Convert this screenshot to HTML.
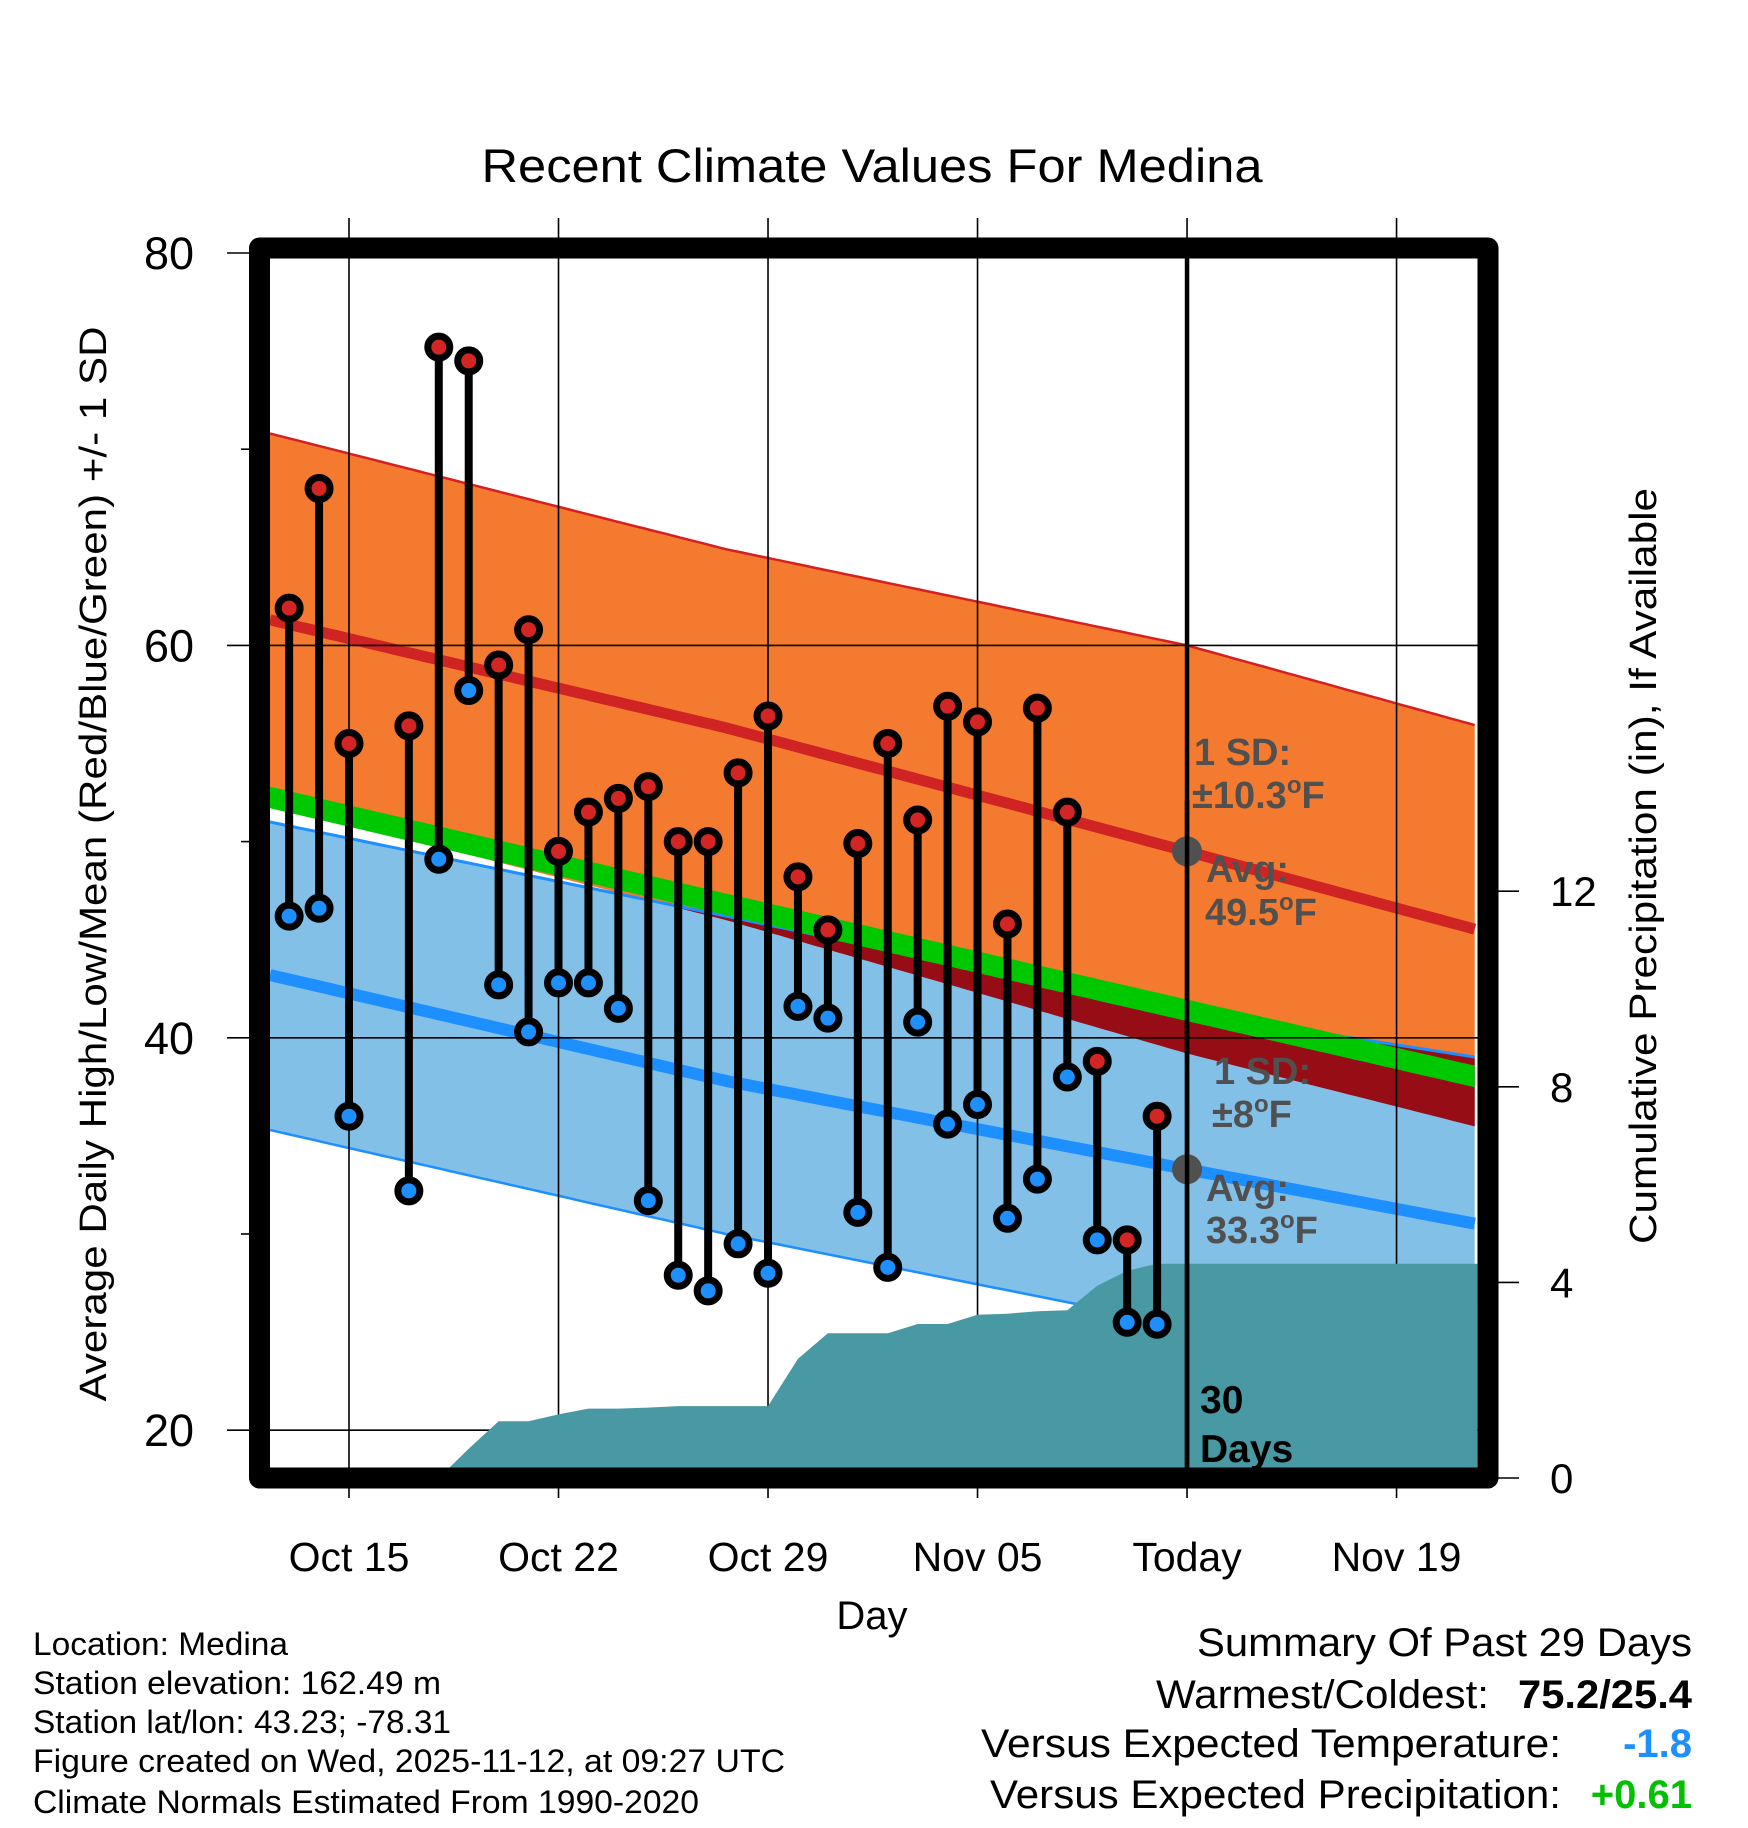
<!DOCTYPE html>
<html><head><meta charset="utf-8"><style>
html,body{margin:0;padding:0;background:#fff;}
svg{display:block;font-family:"Liberation Sans",sans-serif;}
</style></head><body>
<svg id="chart" xmlns="http://www.w3.org/2000/svg" width="1748" height="1828" viewBox="0 0 1748 1828">
<defs><clipPath id="plotclip"><rect x="270" y="258" width="1208" height="1210"/></clipPath></defs>
<g id="bands" clip-path="url(#plotclip)"></g>
<g id="grid"></g>
<g id="precip" clip-path="url(#plotclip)"></g>
<g id="marks"></g>
<g id="annot"></g>
<rect x="259.5" y="248" width="1228.5" height="1230" fill="none" stroke="#000" stroke-width="21" stroke-linejoin="round"/>
<g id="axes"></g>
<text x="872" y="182" font-size="47" text-anchor="middle" textLength="781" lengthAdjust="spacingAndGlyphs">Recent Climate Values For Medina</text>
<text x="872" y="1629" font-size="40" text-anchor="middle">Day</text>
<text transform="translate(106,864) rotate(-90)" font-size="38" text-anchor="middle" textLength="1075" lengthAdjust="spacingAndGlyphs">Average Daily High/Low/Mean (Red/Blue/Green) +/- 1 SD</text>
<text transform="translate(1656,866) rotate(-90)" font-size="38" text-anchor="middle" textLength="756" lengthAdjust="spacingAndGlyphs">Cumulative Precipitation (in), If Available</text>
<g font-size="32">
<text x="33" y="1655" textLength="255" lengthAdjust="spacingAndGlyphs">Location: Medina</text>
<text x="33" y="1694" textLength="408" lengthAdjust="spacingAndGlyphs">Station elevation: 162.49 m</text>
<text x="33" y="1733" textLength="418" lengthAdjust="spacingAndGlyphs">Station lat/lon: 43.23; -78.31</text>
<text x="33" y="1772" textLength="752" lengthAdjust="spacingAndGlyphs">Figure created on Wed, 2025-11-12, at 09:27 UTC</text>
<text x="33" y="1813" textLength="666" lengthAdjust="spacingAndGlyphs">Climate Normals Estimated From 1990-2020</text>
</g>
<g font-size="40">
<text x="1692" y="1656" text-anchor="end" textLength="495" lengthAdjust="spacingAndGlyphs">Summary Of Past 29 Days</text>
<text x="1489" y="1708" text-anchor="end" textLength="333" lengthAdjust="spacingAndGlyphs">Warmest/Coldest:</text>
<text x="1692" y="1708" text-anchor="end" font-weight="bold" textLength="174" lengthAdjust="spacingAndGlyphs">75.2/25.4</text>
<text x="1561" y="1757" text-anchor="end" textLength="580" lengthAdjust="spacingAndGlyphs">Versus Expected Temperature:</text>
<text x="1692" y="1757" text-anchor="end" font-weight="bold" fill="#1e8fff">-1.8</text>
<text x="1561" y="1808" text-anchor="end" textLength="571" lengthAdjust="spacingAndGlyphs">Versus Expected Precipitation:</text>
<text x="1692" y="1808" text-anchor="end" font-weight="bold" fill="#00c000">+0.61</text>
</g>
</svg>
<script>
// ---- data (days since Oct 15) ----
const dayIdx = [-2,-1,0,2,3,4,5,6,7,8,9,10,11,12,13,14,15,16,17,18,19,20,21,22,23,24,25,26,27];
const highs = [61.9,68.0,55.0,55.9,75.2,74.5,59.0,60.8,49.5,51.5,52.2,52.8,50.0,50.0,53.5,56.4,48.2,45.5,49.9,55.0,51.1,56.9,56.1,45.8,56.8,51.5,38.8,29.7,36.0];
const lows  = [46.2,46.6,36.0,32.2,49.1,57.7,42.7,40.3,42.8,42.8,41.5,31.7,27.9,27.1,29.5,28.0,41.6,41.0,31.1,28.3,40.8,35.6,36.6,30.8,32.8,38.0,29.7,25.5,25.4];
const normDays = [-2.64,12.6,28,37.7];
const hiUp  = [70.8,64.9,60.0,55.9];
const hiAvg = [61.3,55.8,49.5,45.5];
const hiLo  = [51.9,46.0,39.2,35.45];
const loUp  = [51.0,46.2,41.3,39.0];
const loAvg = [43.2,37.8,33.3,30.5];
const loLo  = [35.3,30.0,25.3,22.2];
const precipDays = [3,4,5,6,7,8,9,10,11,12,13,14,15,16,17,18,19,20,21,22,23,24,25,26,27,28,37.7];
const precipVals = [0,0.6,1.16,1.16,1.3,1.42,1.42,1.44,1.47,1.47,1.47,1.47,2.44,2.96,2.96,2.96,3.15,3.15,3.34,3.36,3.41,3.43,3.93,4.24,4.38,4.38,4.38];
const xTickDays = [0,7,14,21,28,35];
const xTickLabels = ["Oct 15","Oct 22","Oct 29","Nov 05","Today","Nov 19"];
const yTicks = [80,60,40,20];
const yMinor = [70,50,30];
const pTicks = [0,4,8,12];
const todayDay = 28;
const todayHiAvg = 49.5, todayLoAvg = 33.3;

// ---- scales ----
const xs = d => 349 + d*29.93;
const ys = v => 253 + (80-v)*19.62;
const yp = p => 1478 - p*48.9;
const NS = "http://www.w3.org/2000/svg";
function mk(tag, parent, attrs){const e=document.createElementNS(NS,tag);for(const k in attrs)e.setAttribute(k,attrs[k]);parent.appendChild(e);return e;}
function interp(arr,d){for(let i=0;i<normDays.length-1;i++){if(d<=normDays[i+1]||i===normDays.length-2){const t=(d-normDays[i])/(normDays[i+1]-normDays[i]);return arr[i]+t*(arr[i+1]-arr[i]);}}}
const samp=[];for(let d=normDays[0];d<=normDays[normDays.length-1]+0.001;d+=0.25)samp.push(d);
function bandPath(fTop,fBot){let p="";samp.forEach((d,i)=>{p+=(i?"L":"M")+xs(d).toFixed(1)+","+ys(fTop(d)).toFixed(1);});for(let i=samp.length-1;i>=0;i--){p+="L"+xs(samp[i]).toFixed(1)+","+ys(fBot(samp[i])).toFixed(1);}return p+"Z";}
function linePath(f){return samp.map((d,i)=>(i?"L":"M")+xs(d).toFixed(1)+","+ys(f(d)).toFixed(1)).join("");}

const bands=document.getElementById("bands");
let e;
e=mk("path",bands,{d:bandPath(d=>interp(hiUp,d),d=>interp(hiLo,d)),fill:"#f47a2f"});


e=mk("path",bands,{d:bandPath(d=>interp(loUp,d),d=>interp(loLo,d)),fill:"#82c0e8"});


e=mk("path",bands,{d:bandPath(d=>interp(loUp,d),d=>Math.min(interp(loUp,d),interp(hiLo,d))),fill:"#960d15"});


e=mk("path",bands,{d:linePath(d=>interp(hiUp,d)),fill:"none",stroke:"#d42020","stroke-width":2.5});


e=mk("path",bands,{d:linePath(d=>interp(loUp,d)),fill:"none",stroke:"#1e8fff","stroke-width":3});


e=mk("path",bands,{d:linePath(d=>interp(loLo,d)),fill:"none",stroke:"#1e8fff","stroke-width":2.5});


const mean=d=>(interp(hiAvg,d)+interp(loAvg,d))/2;
e=mk("path",bands,{d:bandPath(d=>mean(d)+0.55,d=>mean(d)-0.55),fill:"#00c800"});


e=mk("path",bands,{d:linePath(d=>interp(hiAvg,d)),fill:"none",stroke:"#d02323","stroke-width":11});


e=mk("path",bands,{d:linePath(d=>interp(loAvg,d)),fill:"none",stroke:"#1e8fff","stroke-width":12});



// grid
const grid=document.getElementById("grid");
xTickDays.forEach(d=>{e=mk("line",grid,{x1:xs(d),x2:xs(d),y1:218,y2:1498,stroke:"#000","stroke-width":1.6});

});
yTicks.forEach(v=>{e=mk("line",grid,{x1:227,x2:1478,y1:ys(v),y2:ys(v),stroke:"#000","stroke-width":1.6});

});

// precip
const pr=document.getElementById("precip");
let pd="M"+xs(precipDays[0])+","+yp(0);
precipDays.forEach((d,i)=>{pd+="L"+xs(d).toFixed(1)+","+yp(precipVals[i]).toFixed(1);});
pd+="L"+xs(precipDays[precipDays.length-1])+","+yp(0)+"Z";
e=mk("path",pr,{d:pd,fill:"#4899a3"});



// today line
const an=document.getElementById("annot");
e=mk("line",an,{x1:xs(todayDay),x2:xs(todayDay),y1:258,y2:1478,stroke:"#000","stroke-width":4.5});



// marks
const mg=document.getElementById("marks");
dayIdx.forEach((d,i)=>{
  const x=xs(d);
  e=mk("line",mg,{x1:x,x2:x,y1:ys(highs[i]),y2:ys(lows[i]),stroke:"#000","stroke-width":8});
  
  
  e=mk("circle",mg,{cx:x,cy:ys(highs[i]),r:11,fill:"#d42525",stroke:"#000","stroke-width":7});
  
  
  e=mk("circle",mg,{cx:x,cy:ys(lows[i]),r:11,fill:"#1e8fff",stroke:"#000","stroke-width":7});
  
  
});

// avg dots & labels
e=mk("circle",an,{cx:xs(todayDay),cy:ys(todayHiAvg),r:15,fill:"#505050"});


e=mk("circle",an,{cx:xs(todayDay),cy:ys(todayLoAvg),r:15,fill:"#505050"});


e=mk("line",an,{x1:xs(todayDay),x2:xs(todayDay),y1:800,y2:1478,stroke:"#000","stroke-width":4.5});


const labs=[[1194,765,"1 SD:"],[1192,808,"±10.3|F"],[1206,882,"Avg:"],[1205,925,"49.5|F"],[1214,1084,"1 SD:"],[1212,1127,"±8|F"],[1206,1201,"Avg:"],[1206,1243,"33.3|F"]];
labs.forEach(l=>{const t=mk("text",an,{x:l[0],y:l[1],"font-size":38,"font-weight":"bold",fill:"#505050"});
  
  
  const parts=l[2].split("|");
  t.appendChild(document.createTextNode(parts[0]));
  if(parts.length>1){const s=mk("tspan",t,{"font-size":24,dy:-15});s.textContent="o";const f=mk("tspan",t,{dy:15});f.textContent=parts[1];}
});
[[1200,1413,"30"],[1200,1462,"Days"]].forEach(l=>{e=mk("text",an,{x:l[0],y:l[1],"font-size":39,"font-weight":"bold",fill:"#000"});
  
  
  e.textContent=l[2];});

// axes
const ax=document.getElementById("axes");
yTicks.forEach(v=>{e=mk("text",ax,{x:194,y:ys(v)+16,"font-size":45,"text-anchor":"end"});
  
  
  e.textContent=v;});
yMinor.forEach(v=>{e=mk("line",ax,{x1:241,x2:252,y1:ys(v),y2:ys(v),stroke:"#000","stroke-width":1.6});
  
  });
pTicks.forEach(p=>{e=mk("line",ax,{x1:1488,x2:1519,y1:yp(p),y2:yp(p),stroke:"#000","stroke-width":1.6});
  
  
  e=mk("text",ax,{x:1550,y:yp(p)+15,"font-size":42});
  
  
  e.textContent=p;});
xTickDays.forEach((d,i)=>{e=mk("text",ax,{x:xs(d),y:1571,"font-size":41,"text-anchor":"middle"});
  
  
  e.textContent=xTickLabels[i];});
</script>
</body></html>
